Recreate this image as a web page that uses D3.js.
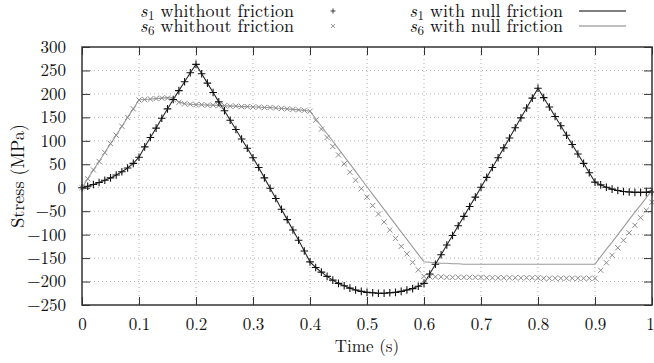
<!DOCTYPE html>
<html>
<head>
<meta charset="utf-8">
<script src="https://cdn.jsdelivr.net/npm/d3@7"></script>
<style>
  html, body { margin: 0; padding: 0; background: #fff; }
  svg { display: block; }
  svg text { font-family: "Latin Modern Roman", "Liberation Serif", serif; fill: #111; }
</style>
</head>
<body>
<script>
// ---- data ----
const time = [0.00,0.01,0.02,0.03,0.04,0.05,0.06,0.07,0.08,0.09,
  0.10,0.11,0.12,0.13,0.14,0.15,0.16,0.17,0.18,0.19,
  0.20,0.21,0.22,0.23,0.24,0.25,0.26,0.27,0.28,0.29,
  0.30,0.31,0.32,0.33,0.34,0.35,0.36,0.37,0.38,0.39,
  0.40,0.41,0.42,0.43,0.44,0.45,0.46,0.47,0.48,0.49,
  0.50,0.51,0.52,0.53,0.54,0.55,0.56,0.57,0.58,0.59,
  0.60,0.61,0.62,0.63,0.64,0.65,0.66,0.67,0.68,0.69,
  0.70,0.71,0.72,0.73,0.74,0.75,0.76,0.77,0.78,0.79,
  0.80,0.81,0.82,0.83,0.84,0.85,0.86,0.87,0.88,0.89,
  0.90,0.91,0.92,0.93,0.94,0.95,0.96,0.97,0.98,0.99,1.00];

const s1Without = [0,3,7,11,16,21,27,34,42,52,
  65,87,107,127,148,168,188,207,226,245,
  263,243,223,203,183,164,144,124,104,84,
  64,43,21,-1,-23,-46,-68,-90,-112,-135,
  -158,-170,-180,-189,-197,-204,-209,-214,-218,-221,
  -223,-224,-225,-225,-224,-223,-221,-218,-215,-210,
  -204,-184,-163,-143,-122,-102,-81,-61,-40,-20,
  1,22,43,64,85,106,128,149,170,191,
  212,192,172,152,132,112,92,72,52,32,
  12,6,1,-3,-6,-8,-9,-10,-10,-10,-9];

const s6Without = [0,19,38,56,75,94,112,131,150,168,
  187,188,189,190,191,191,188,182,179,178,
  177,177,176,176,175,175,174,174,173,173,
  172,172,171,171,170,169,168,167,166,165,
  163,144,125,107,88,70,51,33,16,-2,
  -20,-38,-56,-73,-90,-108,-125,-141,-159,-175,
  -189,-190,-190,-190,-191,-191,-191,-191,-191,-191,
  -191,-192,-192,-192,-192,-192,-192,-192,-192,-192,
  -192,-193,-193,-193,-193,-193,-193,-193,-193,-193,
  -193,-176,-160,-144,-128,-112,-96,-80,-64,-48,-31];

const s1Null = [0,3,7,11,16,21,27,34,42,52,
  65,87,107,127,148,168,188,207,226,245,
  263,243,223,203,183,164,144,124,104,84,
  64,43,21,-1,-23,-46,-68,-90,-112,-135,
  -158,-170,-180,-189,-197,-204,-209,-214,-218,-221,
  -223,-224,-225,-225,-224,-223,-221,-218,-215,-210,
  -204,-184,-163,-143,-122,-102,-81,-61,-40,-20,
  1,22,43,64,85,106,128,149,170,191,
  212,192,172,152,132,112,92,72,52,32,
  12,6,1,-3,-6,-8,-9,-10,-10,-9,-6];

const s6Null = [0,19,38,56,75,94,112,131,150,168,
  187,188,189,190,191,192,191,183,179,178,
  177,177,176,176,175,175,174,174,173,173,
  172,172,171,171,170,169,168,167,166,165,
  163,147,131,115,99,83,67,51,35,18,
  2,-14,-30,-46,-62,-78,-94,-110,-126,-142,
  -158,-159,-160,-161,-161,-162,-162,-163,-163,-163,
  -163,-163,-163,-163,-163,-163,-163,-163,-163,-163,
  -163,-163,-163,-163,-163,-163,-163,-163,-163,-163,
  -163,-147,-131,-116,-100,-84,-68,-52,-37,-21,-5];

const xTicks = [0,0.1,0.2,0.3,0.4,0.5,0.6,0.7,0.8,0.9,1];
const xTickLabels = ["0","0.1","0.2","0.3","0.4","0.5","0.6","0.7","0.8","0.9","1"];
const yTicks = [300,250,200,150,100,50,0,-50,-100,-150,-200,-250];
const xLabel = "Time (s)";
const yLabel = "Stress (MPa)";
const legendLabels = ["whithout friction", "whithout friction", "with null friction", "with null friction"];
const legendSubs = ["1", "6", "1", "6"];

// ---- layout ----
const FONT = '"Latin Modern Roman", "Liberation Serif", serif';
const W = 654, H = 363;
const m = {left: 82, right: 2, top: 47, bottom: 58};
const x = d3.scaleLinear().domain([0, 1]).range([m.left, W - m.right]);
const y = d3.scaleLinear().domain([-250, 300]).range([H - m.bottom, m.top]);
const fs = 17;
const lfs = 18;
const tickLen = 8;

const svg = d3.select("body").append("svg").attr("width", W).attr("height", H);

// grid
const grid = svg.append("g").attr("stroke", "#b0b0b0").attr("stroke-width", 1)
  .attr("stroke-dasharray", "1,3");
grid.selectAll("line.gx").data(xTicks.slice(1, -1)).join("line")
  .attr("x1", d => x(d)).attr("x2", d => x(d))
  .attr("y1", m.top).attr("y2", H - m.bottom);
grid.selectAll("line.gy").data(yTicks.slice(1, -1)).join("line")
  .attr("x1", m.left).attr("x2", W - m.right)
  .attr("y1", d => y(d)).attr("y2", d => y(d));

// axes (inward ticks, mirrored)
const fmtY = d => (d < 0 ? "\u2212" + Math.abs(d) : String(d));
const axB = svg.append("g").attr("transform", `translate(0,${H - m.bottom})`)
  .call(d3.axisBottom(x).tickValues(xTicks).tickSizeInner(-tickLen).tickSizeOuter(0)
    .tickPadding(13).tickFormat((d, i) => xTickLabels[i]));
const axT = svg.append("g").attr("transform", `translate(0,${m.top})`)
  .call(d3.axisTop(x).tickValues(xTicks).tickSizeInner(-tickLen).tickSizeOuter(0).tickFormat(""));
const axL = svg.append("g").attr("transform", `translate(${m.left},0)`)
  .call(d3.axisLeft(y).tickValues(yTicks).tickSizeInner(-tickLen).tickSizeOuter(0)
    .tickPadding(16).tickFormat(fmtY));
const axR = svg.append("g").attr("transform", `translate(${W - m.right},0)`)
  .call(d3.axisRight(y).tickValues(yTicks).tickSizeInner(-tickLen).tickSizeOuter(0).tickFormat(""));
[axB, axT, axL, axR].forEach(a => {
  a.select(".domain").remove();
  a.attr("font-family", FONT).attr("font-size", fs);
  a.selectAll(".tick line").attr("stroke", "#333").attr("stroke-width", 1);
  a.selectAll("text").attr("fill", "#111");
});
// keep last x label inside the canvas
axB.selectAll(".tick text").filter((d, i) => i === xTicks.length - 1).attr("x", -2);

// data lines
const pairs = arr => time.map((t, i) => [t, arr[i]]);
const line = d3.line().x(d => x(d[0])).y(d => y(d[1]));
svg.append("path").datum(pairs(s6Null)).attr("d", line)
  .attr("fill", "none").attr("stroke", "#9a9a9a").attr("stroke-width", 1.1);
svg.append("path").datum(pairs(s1Null)).attr("d", line)
  .attr("fill", "none").attr("stroke", "#2a2a2a").attr("stroke-width", 1.1);

// markers
const cross = (g, cx, cy, r, color) => {
  g.append("path").attr("d", `M${cx - r},${cy - r}L${cx + r},${cy + r}M${cx - r},${cy + r}L${cx + r},${cy - r}`)
    .attr("stroke", color).attr("stroke-width", 1).attr("fill", "none");
};
const plus = (g, cx, cy, r, color) => {
  g.append("path").attr("d", `M${cx - r},${cy}L${cx + r},${cy}M${cx},${cy - r}L${cx},${cy + r}`)
    .attr("stroke", color).attr("stroke-width", 1.1).attr("fill", "none");
};
const mk6 = svg.append("g");
pairs(s6Without).forEach(d => cross(mk6, x(d[0]), y(d[1]), 2.6, "#8a8a8a"));
const mk1 = svg.append("g");
pairs(s1Without).forEach(d => plus(mk1, x(d[0]), y(d[1]), 3.8, "#111"));

// frame
svg.append("rect").attr("x", m.left).attr("y", m.top)
  .attr("width", W - m.left - m.right).attr("height", H - m.top - m.bottom)
  .attr("fill", "none").attr("stroke", "#333").attr("stroke-width", 1.5);

// axis titles
svg.append("text").attr("x", (m.left + W - m.right) / 2).attr("y", 352)
  .attr("text-anchor", "middle").attr("font-family", FONT).attr("font-size", fs).text(xLabel);
svg.append("text").attr("transform", "translate(24,176) rotate(-90)")
  .attr("text-anchor", "middle").attr("font-family", FONT).attr("font-size", lfs).text(yLabel);

// legend (separate text pieces laid out right-aligned)
const textRight = [294, 563];
const rowBase = [17, 32];
const kinds = ["plus", "cross", "dark", "light"];
const lg = svg.append("g").attr("font-family", FONT);
legendLabels.forEach((lab, i) => {
  const col = i < 2 ? 0 : 1, row = i % 2;
  const base = rowBase[row];
  const main = lg.append("text").attr("x", textRight[col]).attr("y", base)
    .attr("text-anchor", "end").attr("font-size", lfs).text(lab);
  const mainW = main.node().getComputedTextLength();
  const subX = textRight[col] - mainW - 6;
  const sub = lg.append("text").attr("x", subX).attr("y", base + 3)
    .attr("text-anchor", "end").attr("font-size", 13).text(legendSubs[i]);
  const subW = sub.node().getComputedTextLength();
  lg.append("text").attr("x", subX - subW - 0.5).attr("y", base)
    .attr("text-anchor", "end").attr("font-size", lfs).attr("font-style", "italic").text("s");
  const cy = base - 6;
  if (kinds[i] === "plus") plus(lg, 333, cy, 2.5, "#444");
  else if (kinds[i] === "cross") cross(lg, 333, cy, 2, "#999");
  else lg.append("line").attr("x1", 579).attr("x2", 626).attr("y1", cy).attr("y2", cy)
    .attr("stroke", kinds[i] === "dark" ? "#555" : "#aaa").attr("stroke-width", 1.5);
});
</script>
</body>
</html>
